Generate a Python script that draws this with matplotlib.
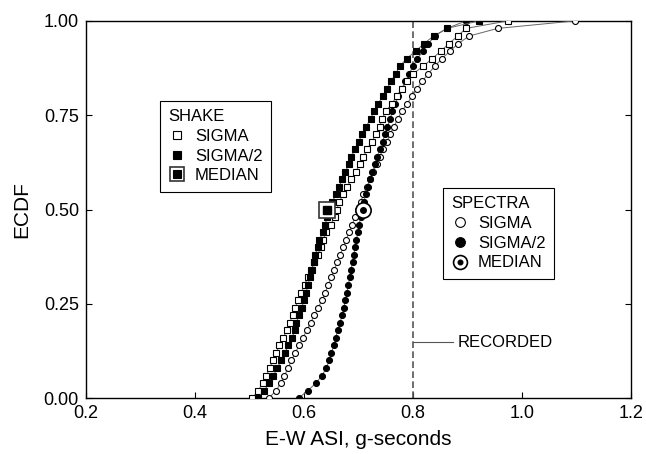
import matplotlib.pyplot as plt
import numpy as np
from matplotlib.lines import Line2D
from matplotlib.legend_handler import HandlerTuple

plt.rcParams['font.family'] = ['Liberation Sans', 'DejaVu Sans']

# sorted sample values (E-W ASI, g-seconds) for each simulation set
shake_sigma = [0.505, 0.516, 0.524, 0.531, 0.537, 0.543, 0.549, 0.555, 0.562, 0.568,
               0.574, 0.579, 0.584, 0.589, 0.595, 0.601, 0.607, 0.613, 0.619, 0.625,
               0.631, 0.635, 0.640, 0.649, 0.656, 0.660, 0.665, 0.671, 0.679, 0.687,
               0.695, 0.702, 0.709, 0.716, 0.724, 0.732, 0.739, 0.743, 0.750, 0.761,
               0.770, 0.779, 0.789, 0.800, 0.819, 0.835, 0.851, 0.866, 0.882, 0.897,
               0.974]
shake_sigma2 = [0.515, 0.527, 0.536, 0.544, 0.551, 0.558, 0.565, 0.571, 0.578, 0.583,
                0.586, 0.591, 0.596, 0.600, 0.604, 0.607, 0.611, 0.614, 0.618, 0.621,
                0.625, 0.628, 0.635, 0.639, 0.642, 0.646, 0.652, 0.658, 0.664, 0.670,
                0.676, 0.682, 0.687, 0.693, 0.700, 0.707, 0.714, 0.722, 0.728, 0.736,
                0.744, 0.752, 0.760, 0.768, 0.776, 0.788, 0.805, 0.820, 0.838, 0.862,
                0.921]
spectra_sigma = [0.535, 0.549, 0.557, 0.564, 0.571, 0.577, 0.584, 0.591, 0.598, 0.605,
                 0.612, 0.619, 0.626, 0.633, 0.639, 0.644, 0.650, 0.655, 0.661, 0.666,
                 0.672, 0.677, 0.683, 0.688, 0.694, 0.699, 0.704, 0.709, 0.715, 0.721,
                 0.727, 0.733, 0.739, 0.745, 0.752, 0.758, 0.765, 0.772, 0.779, 0.789,
                 0.798, 0.807, 0.817, 0.828, 0.840, 0.853, 0.868, 0.883, 0.903, 0.955,
                 1.097]
spectra_sigma2 = [0.590, 0.607, 0.622, 0.633, 0.641, 0.646, 0.650, 0.655, 0.658, 0.662,
                  0.666, 0.670, 0.673, 0.676, 0.679, 0.681, 0.684, 0.686, 0.689, 0.691,
                  0.694, 0.696, 0.699, 0.701, 0.704, 0.707, 0.710, 0.713, 0.717, 0.721,
                  0.725, 0.730, 0.734, 0.739, 0.744, 0.749, 0.753, 0.758, 0.762, 0.767,
                  0.773, 0.779, 0.786, 0.793, 0.800, 0.808, 0.818, 0.828, 0.840, 0.862,
                  0.897]
shake_median = 0.643
spectra_median = 0.708
recorded = 0.80


def ecdf(vals):
    x = np.sort(vals)
    y = np.arange(len(x)) / (len(x) - 1)
    return x, y


fig = plt.figure(figsize=(6.46, 4.54), dpi=100)
ax = fig.add_axes([0.133, 0.123, 0.844, 0.831])

line_kw = dict(color='#666666', lw=0.7, markersize=4.3, markeredgewidth=0.8,
               markeredgecolor='black', zorder=3)
x, y = ecdf(spectra_sigma)
ax.plot(x, y, marker='o', markerfacecolor='white', **line_kw)
x, y = ecdf(spectra_sigma2)
ax.plot(x, y, marker='o', markerfacecolor='black', **line_kw)
x, y = ecdf(shake_sigma)
ax.plot(x, y, marker='s', markerfacecolor='white', **line_kw)
x, y = ecdf(shake_sigma2)
ax.plot(x, y, marker='s', markerfacecolor='black', **line_kw)

# medians
ax.plot(shake_median, 0.5, marker='s', ms=11, mfc='white', mec='#333333', mew=1.2, zorder=5)
ax.plot(shake_median, 0.5, marker='s', ms=6, mfc='black', mec='black', zorder=6)
ax.plot(spectra_median, 0.5, marker='o', ms=11, mfc='white', mec='black', mew=1.2, zorder=5)
ax.plot(spectra_median, 0.5, marker='o', ms=4, mfc='black', mec='black', zorder=6)

# recorded value
ax.axvline(recorded, color='#555555', lw=1.2, ls=(0, (4, 2)), zorder=2)
ax.plot([recorded, 0.874], [0.148, 0.148], color='#555555', lw=0.8)
ax.text(0.881, 0.148, 'RECORDED', fontsize=12, va='center', ha='left')

ax.set_xlim(0.2, 1.2)
ax.set_ylim(0, 1)
ax.set_xticks([0.2, 0.4, 0.6, 0.8, 1.0, 1.2])
ax.set_yticks([0, 0.25, 0.5, 0.75, 1.0])
ax.set_yticklabels(['0.00', '0.25', '0.50', '0.75', '1.00'])
ax.tick_params(direction='in', length=4, labelsize=13, right=True, top=False,
               width=0.8, pad=5)
ax.set_xlabel('E-W ASI, g-seconds', fontsize=15, labelpad=6)
ax.set_ylabel('ECDF', fontsize=15, labelpad=9)
for s in ax.spines.values():
    s.set_linewidth(1)

mk = dict(linestyle='none', markeredgecolor='black', markeredgewidth=0.8)
h_sq_open = Line2D([], [], marker='s', ms=5.5, mfc='white', **mk)
h_sq_fill = Line2D([], [], marker='s', ms=5.5, mfc='black', **mk)
h_sq_med = (Line2D([], [], marker='s', ms=9.5, mfc='white', linestyle='none',
                   markeredgecolor='#333333', markeredgewidth=1.2),
            Line2D([], [], marker='s', ms=5.5, mfc='black', **mk))
h_ci_open = Line2D([], [], marker='o', ms=7, mfc='white', **mk)
h_ci_fill = Line2D([], [], marker='o', ms=7, mfc='black', **mk)
h_ci_med = (Line2D([], [], marker='o', ms=10, mfc='white', linestyle='none',
                   markeredgecolor='black', markeredgewidth=1.2),
            Line2D([], [], marker='o', ms=3.5, mfc='black', **mk))

leg_kw = dict(loc='upper left', fontsize=12, title_fontsize=12, alignment='left',
              fancybox=False, edgecolor='black', framealpha=1, borderaxespad=0,
              handlelength=1.0, handletextpad=0.6, labelspacing=0.28, borderpad=0.5,
              handler_map={tuple: HandlerTuple(ndivide=1)})
leg1 = ax.legend([h_sq_open, h_sq_fill, h_sq_med], ['SIGMA', 'SIGMA/2', 'MEDIAN'],
                 title='SHAKE', bbox_to_anchor=(0.136, 0.788), **leg_kw)
leg1.get_frame().set_linewidth(0.8)
ax.add_artist(leg1)
leg2 = ax.legend([h_ci_open, h_ci_fill, h_ci_med], ['SIGMA', 'SIGMA/2', 'MEDIAN'],
                 title='SPECTRA', bbox_to_anchor=(0.655, 0.557), **leg_kw)
leg2.get_frame().set_linewidth(0.8)

fig.savefig('out.png', dpi=100)
